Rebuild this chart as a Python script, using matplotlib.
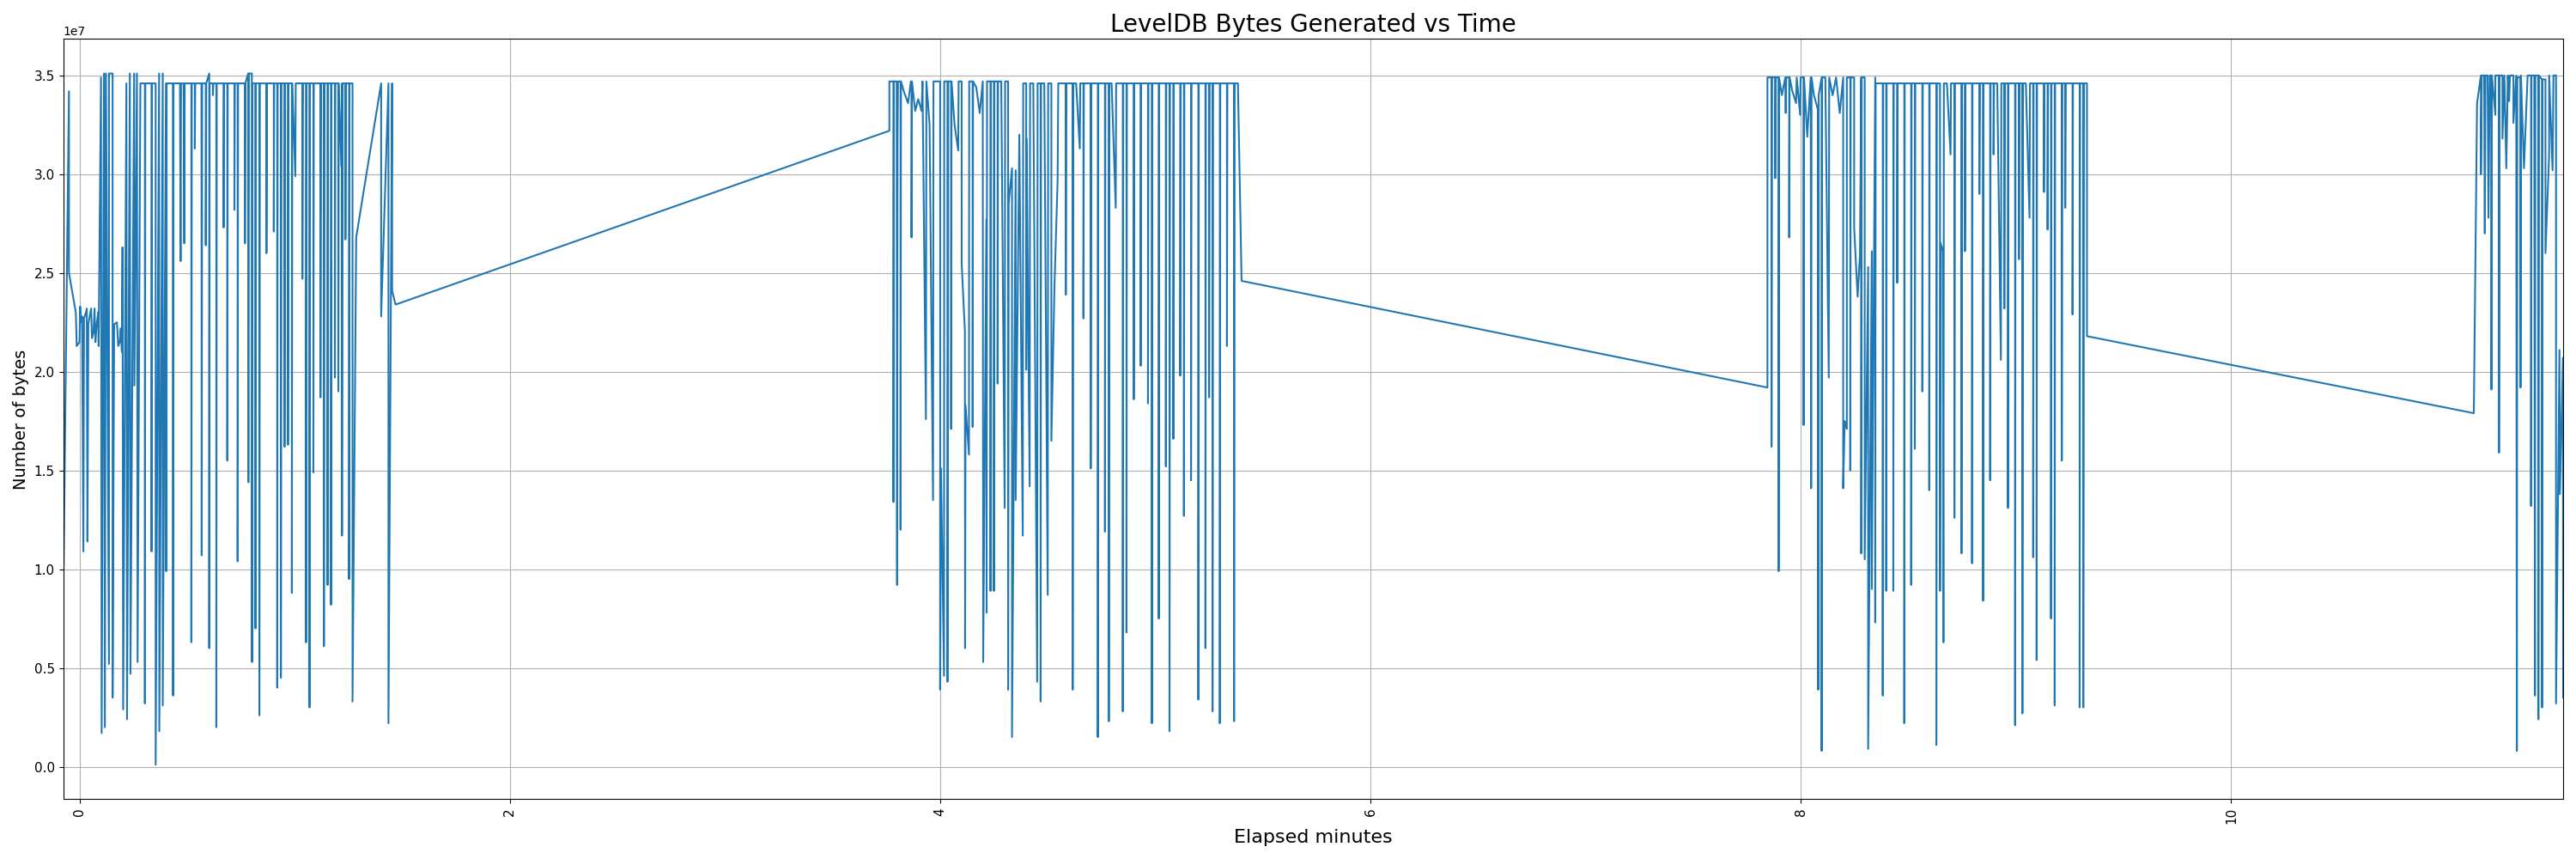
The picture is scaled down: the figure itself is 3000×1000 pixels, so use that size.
import matplotlib
matplotlib.use("Agg")
import matplotlib.pyplot as plt
import numpy as np

# ---- data: elapsed minutes and bytes (in units of 1e7 bytes) ----
b1_min = [
    -0.076, -0.049, -0.049, -0.017, -0.013, 0.000, 0.003, 0.007, 0.012, 0.018,
    0.021, 0.030, 0.034, 0.037, 0.041, 0.054, 0.058, 0.065, 0.070, 0.074,
    0.080, 0.087, 0.089, 0.100, 0.103, 0.114, 0.118, 0.123, 0.137, 0.137,
    0.154, 0.154, 0.161, 0.174, 0.180, 0.187, 0.192, 0.197, 0.200, 0.203,
    0.218, 0.221, 0.234, 0.237, 0.254, 0.255, 0.267, 0.270, 0.283, 0.304,
    0.304, 0.306, 0.335, 0.335, 0.337, 0.354, 0.354, 0.370, 0.371, 0.387,
    0.387, 0.402, 0.403, 0.405, 0.434, 0.435, 0.437, 0.467, 0.470, 0.472,
    0.484, 0.487, 0.489, 0.520, 0.520, 0.522, 0.536, 0.536, 0.538, 0.567,
    0.568, 0.570, 0.587, 0.587, 0.589, 0.603, 0.603, 0.605, 0.620, 0.620,
    0.622, 0.636, 0.636, 0.638, 0.670, 0.670, 0.672, 0.687, 0.687, 0.689,
    0.720, 0.720, 0.722, 0.735, 0.735, 0.737, 0.769, 0.769, 0.771, 0.784,
    0.785, 0.787, 0.801, 0.802, 0.804, 0.817, 0.818, 0.820, 0.836, 0.836,
    0.838, 0.869, 0.869, 0.871, 0.903, 0.903, 0.905, 0.919, 0.919, 0.921,
    0.936, 0.936, 0.938, 0.953, 0.953, 0.955, 0.969, 0.969, 0.971, 0.987,
    0.987, 0.989, 1.003, 1.005, 1.036, 1.036, 1.038, 1.053, 1.053, 1.055,
    1.069, 1.069, 1.071, 1.087, 1.087, 1.089, 1.120, 1.120, 1.122, 1.136,
    1.136, 1.138, 1.153, 1.153, 1.155, 1.169, 1.169, 1.171, 1.187, 1.187,
    1.189, 1.203, 1.203, 1.205, 1.217, 1.220, 1.220, 1.222, 1.236, 1.236,
    1.238, 1.253, 1.253, 1.255, 1.269, 1.269, 1.286, 1.402, 1.402, 1.436,
    1.436, 1.453, 1.453, 1.469,
]
b1_val = [
    0.80, 3.42, 2.50, 2.30, 2.13, 2.15, 2.33, 2.25, 2.28, 1.09,
    2.27, 2.30, 2.32, 1.14, 2.24, 2.32, 2.17, 2.20, 2.32, 2.15,
    2.24, 2.30, 2.13, 3.49, 0.17, 3.51, 0.20, 3.51, 0.52, 3.51,
    3.51, 0.35, 2.24, 2.25, 2.13, 2.15, 2.22, 2.10, 2.63, 0.29,
    3.46, 0.24, 3.51, 0.47, 3.51, 1.93, 3.51, 0.53, 3.46, 3.46,
    0.32, 3.46, 3.46, 1.09, 3.46, 3.46, 0.01, 3.51, 0.18, 3.51,
    0.31, 3.46, 0.99, 3.46, 3.46, 0.36, 3.46, 3.46, 2.56, 3.46,
    3.46, 2.65, 3.46, 3.46, 0.63, 3.46, 3.46, 3.13, 3.46, 3.46,
    1.07, 3.46, 3.46, 2.64, 3.46, 3.51, 0.60, 3.46, 3.46, 3.40,
    3.46, 3.46, 0.20, 3.46, 3.46, 2.73, 3.46, 3.46, 1.55, 3.46,
    3.46, 2.82, 3.46, 3.46, 1.04, 3.46, 3.46, 2.65, 3.46, 3.51,
    1.44, 3.51, 3.51, 0.53, 3.46, 3.46, 0.70, 3.46, 3.46, 0.26,
    3.46, 3.46, 2.60, 3.46, 3.46, 2.71, 3.46, 3.46, 0.40, 3.46,
    3.46, 0.45, 3.46, 3.46, 1.62, 3.46, 3.46, 1.63, 3.46, 3.46,
    0.88, 3.46, 2.99, 3.46, 3.46, 2.47, 3.46, 3.46, 0.63, 3.46,
    3.46, 0.30, 3.46, 3.46, 1.49, 3.46, 3.46, 1.87, 3.46, 3.46,
    0.61, 3.46, 3.46, 0.92, 3.46, 3.46, 0.82, 3.46, 3.46, 1.97,
    3.46, 3.46, 1.90, 3.46, 3.04, 3.46, 1.17, 3.46, 3.46, 2.67,
    3.46, 3.46, 0.95, 3.46, 3.46, 0.33, 2.68, 3.46, 2.28, 3.46,
    0.22, 3.46, 2.41, 2.34,
]

b2_min = [
    3.764, 3.764, 3.783, 3.783, 3.785, 3.798, 3.800, 3.802, 3.804, 3.816,
    3.816, 3.818, 3.831, 3.851, 3.864, 3.867, 3.867, 3.869, 3.884, 3.898,
    3.914, 3.918, 3.934, 3.936, 3.951, 3.967, 3.969, 3.984, 4.000, 4.000,
    4.004, 4.018, 4.019, 4.034, 4.034, 4.036, 4.038, 4.051, 4.051, 4.053,
    4.067, 4.084, 4.086, 4.100, 4.100, 4.115, 4.116, 4.118, 4.134, 4.135,
    4.151, 4.151, 4.153, 4.168, 4.184, 4.198, 4.200, 4.215, 4.216, 4.218,
    4.234, 4.234, 4.236, 4.250, 4.250, 4.252, 4.267, 4.267, 4.269, 4.284,
    4.300, 4.302, 4.316, 4.316, 4.318, 4.334, 4.334, 4.351, 4.351, 4.368,
    4.384, 4.386, 4.400, 4.400, 4.402, 4.416, 4.418, 4.433, 4.451, 4.453,
    4.467, 4.467, 4.469, 4.484, 4.500, 4.502, 4.517, 4.517, 4.531, 4.546,
    4.549, 4.584, 4.584, 4.586, 4.616, 4.616, 4.618, 4.632, 4.649, 4.651,
    4.666, 4.666, 4.668, 4.700, 4.700, 4.702, 4.733, 4.733, 4.735, 4.766,
    4.766, 4.768, 4.784, 4.784, 4.786, 4.797, 4.816, 4.818, 4.849, 4.849,
    4.851, 4.866, 4.866, 4.868, 4.900, 4.900, 4.902, 4.932, 4.932, 4.934,
    4.966, 4.966, 4.968, 4.984, 4.984, 4.986, 5.016, 5.016, 5.018, 5.049,
    5.049, 5.051, 5.066, 5.066, 5.068, 5.084, 5.084, 5.086, 5.116, 5.116,
    5.118, 5.133, 5.133, 5.135, 5.166, 5.166, 5.168, 5.200, 5.200, 5.202,
    5.233, 5.233, 5.235, 5.250, 5.250, 5.252, 5.266, 5.266, 5.268, 5.300,
    5.300, 5.302, 5.333, 5.333, 5.335, 5.366, 5.366, 5.368, 5.384, 5.401,
]
b2_val = [
    3.22, 3.47, 3.47, 1.34, 3.47, 3.47, 0.92, 3.13, 3.47, 3.47,
    1.20, 3.47, 3.42, 3.36, 3.47, 3.47, 2.68, 3.47, 3.32, 3.38,
    3.32, 3.47, 1.76, 3.47, 3.25, 1.35, 3.47, 3.47, 3.47, 0.39,
    1.51, 0.46, 3.47, 3.47, 0.43, 1.62, 3.47, 3.47, 1.71, 3.47,
    3.25, 3.12, 3.47, 3.47, 2.55, 2.21, 0.60, 1.83, 1.58, 3.47,
    3.47, 1.72, 3.47, 3.44, 3.31, 3.47, 0.53, 2.77, 0.78, 3.47,
    3.47, 0.89, 3.47, 3.47, 0.89, 3.47, 3.47, 1.94, 3.47, 3.47,
    1.31, 3.47, 3.47, 0.39, 2.85, 3.03, 0.15, 3.02, 1.35, 3.20,
    1.17, 3.46, 3.46, 2.01, 3.18, 1.42, 3.46, 3.46, 0.43, 3.46,
    3.46, 0.33, 3.46, 3.46, 0.87, 3.46, 3.46, 1.65, 2.42, 2.97,
    3.46, 3.46, 2.39, 3.46, 3.46, 0.39, 3.46, 3.46, 3.13, 3.46,
    3.46, 2.27, 3.46, 3.46, 1.51, 3.46, 3.46, 0.15, 3.46, 3.46,
    1.19, 3.46, 3.46, 0.23, 3.46, 3.46, 2.83, 3.46, 3.46, 0.28,
    3.46, 3.46, 0.68, 3.46, 3.46, 1.86, 3.46, 3.46, 2.03, 3.46,
    3.46, 1.84, 3.46, 3.46, 0.22, 3.46, 3.46, 0.75, 3.46, 3.46,
    1.52, 3.46, 3.46, 0.18, 3.46, 3.46, 1.66, 3.46, 3.46, 1.98,
    3.46, 3.46, 1.27, 3.46, 3.46, 1.45, 3.46, 3.46, 0.34, 3.46,
    3.46, 0.60, 3.46, 3.46, 1.87, 3.46, 3.46, 0.28, 3.46, 3.46,
    0.22, 3.46, 3.46, 2.13, 3.46, 3.46, 0.23, 3.46, 3.46, 2.46,
]

b3_min = [
    7.845, 7.845, 7.864, 7.864, 7.866, 7.881, 7.881, 7.883, 7.897, 7.897,
    7.899, 7.912, 7.928, 7.930, 7.932, 7.946, 7.946, 7.948, 7.961, 7.978,
    7.981, 7.997, 7.999, 8.013, 8.013, 8.015, 8.030, 8.046, 8.048, 8.050,
    8.061, 8.079, 8.081, 8.083, 8.097, 8.097, 8.099, 8.114, 8.130, 8.132,
    8.148, 8.164, 8.181, 8.197, 8.197, 8.204, 8.214, 8.214, 8.230, 8.230,
    8.232, 8.248, 8.248, 8.264, 8.275, 8.281, 8.281, 8.283, 8.297, 8.297,
    8.313, 8.313, 8.330, 8.330, 8.346, 8.346, 8.348, 8.381, 8.381, 8.383,
    8.397, 8.397, 8.399, 8.430, 8.430, 8.432, 8.448, 8.448, 8.450, 8.481,
    8.481, 8.483, 8.513, 8.513, 8.515, 8.530, 8.530, 8.532, 8.565, 8.565,
    8.567, 8.597, 8.597, 8.599, 8.630, 8.630, 8.632, 8.647, 8.647, 8.650,
    8.660, 8.663, 8.665, 8.679, 8.696, 8.698, 8.714, 8.714, 8.716, 8.747,
    8.747, 8.749, 8.763, 8.763, 8.765, 8.796, 8.796, 8.798, 8.830, 8.830,
    8.832, 8.847, 8.847, 8.849, 8.880, 8.880, 8.882, 8.896, 8.896, 8.898,
    8.913, 8.930, 8.932, 8.946, 8.946, 8.948, 8.963, 8.963, 8.965, 8.996,
    8.996, 8.998, 9.014, 9.014, 9.016, 9.030, 9.030, 9.032, 9.046, 9.063,
    9.065, 9.080, 9.080, 9.082, 9.096, 9.096, 9.098, 9.130, 9.130, 9.132,
    9.147, 9.147, 9.149, 9.163, 9.163, 9.165, 9.180, 9.180, 9.182, 9.213,
    9.213, 9.215, 9.229, 9.229, 9.231, 9.263, 9.263, 9.265, 9.296, 9.296,
    9.298, 9.313, 9.313, 9.315, 9.330, 9.330,
]
b3_val = [
    1.92, 3.49, 3.49, 1.62, 3.49, 3.49, 2.98, 3.49, 3.49, 0.99,
    3.49, 3.40, 3.49, 3.31, 3.49, 3.49, 2.68, 3.49, 3.42, 3.36,
    3.49, 3.30, 3.49, 3.49, 1.73, 3.49, 3.19, 3.49, 1.41, 3.49,
    3.40, 3.33, 0.39, 3.40, 3.49, 0.08, 3.49, 3.49, 1.97, 3.49,
    3.40, 3.49, 3.31, 3.49, 1.41, 1.75, 1.71, 3.49, 3.49, 1.50,
    3.49, 3.49, 2.73, 2.38, 2.59, 3.49, 1.08, 3.49, 3.49, 1.05,
    2.53, 0.09, 2.61, 0.90, 3.49, 0.73, 3.46, 3.46, 0.36, 3.46,
    3.46, 0.89, 3.46, 3.46, 0.89, 3.46, 3.46, 2.45, 3.46, 3.46,
    0.22, 3.46, 3.46, 0.92, 3.46, 3.46, 1.61, 3.46, 3.46, 1.90,
    3.46, 3.46, 1.40, 3.46, 3.46, 0.11, 3.46, 3.46, 0.89, 2.65,
    2.61, 0.63, 3.46, 3.46, 3.10, 3.46, 3.46, 1.26, 3.46, 3.46,
    1.08, 3.46, 3.46, 2.61, 3.46, 3.46, 1.03, 3.46, 3.46, 2.90,
    3.46, 3.46, 0.84, 3.46, 3.46, 1.45, 3.46, 3.46, 3.10, 3.46,
    3.46, 2.06, 3.46, 3.46, 2.32, 3.46, 3.46, 1.31, 3.46, 3.46,
    0.21, 3.46, 3.46, 2.57, 3.46, 3.46, 0.27, 3.46, 3.46, 2.78,
    3.46, 3.46, 1.06, 3.46, 3.46, 0.54, 3.46, 3.46, 2.91, 3.46,
    3.46, 2.72, 3.46, 3.46, 0.75, 3.46, 3.46, 0.31, 3.46, 3.46,
    1.55, 3.46, 3.46, 2.83, 3.46, 3.46, 2.29, 3.46, 3.46, 0.30,
    3.46, 3.46, 0.30, 3.46, 3.46, 2.18,
]

b4_min = [
    11.128, 11.143, 11.161, 11.161, 11.165, 11.176, 11.179, 11.182, 11.192, 11.196,
    11.202, 11.209, 11.210, 11.212, 11.228, 11.228, 11.245, 11.245, 11.247, 11.261,
    11.261, 11.270, 11.279, 11.286, 11.292, 11.296, 11.312, 11.312, 11.325, 11.328,
    11.330, 11.345, 11.345, 11.347, 11.361, 11.378, 11.394, 11.394, 11.396, 11.409,
    11.412, 11.414, 11.428, 11.428, 11.430, 11.445, 11.445, 11.447, 11.461, 11.461,
    11.478, 11.478, 11.494, 11.498, 11.510, 11.510, 11.526, 11.528, 11.542, 11.543,
]
b4_val = [
    1.79, 3.36, 3.50, 3.00, 3.50, 3.50, 2.70, 3.50, 3.50, 2.78,
    3.50, 3.50, 1.91, 3.50, 3.30, 3.50, 3.50, 1.59, 3.50, 3.50,
    3.18, 3.50, 3.03, 3.50, 3.37, 3.50, 3.50, 3.26, 3.50, 0.08,
    3.49, 3.49, 1.92, 3.50, 3.03, 3.50, 3.50, 1.32, 3.50, 3.50,
    0.36, 3.50, 3.50, 0.24, 3.50, 3.48, 0.30, 3.48, 3.48, 2.60,
    3.10, 3.50, 3.02, 3.50, 3.50, 0.32, 2.11, 1.38, 2.07, 0.35,
]

minutes = np.array(b1_min + b2_min + b3_min + b4_min)
num_bytes = np.array(b1_val + b2_val + b3_val + b4_val) * 1e7

fig, ax = plt.subplots(figsize=(30, 10), dpi=100)
ax.plot(minutes, num_bytes, color="#1f77b4", linewidth=1.5)
ax.set_title("LevelDB Bytes Generated vs Time", fontsize=20)
ax.set_xlabel("Elapsed minutes", fontsize=16)
ax.set_ylabel("Number of bytes", fontsize=14)
ax.set_xlim(minutes.min(), minutes.max())
ax.tick_params(axis="both", labelsize=11)
ax.grid(True)
plt.setp(ax.get_xticklabels(), rotation=90)
fig.tight_layout()
fig.savefig("out.png", dpi=100)
